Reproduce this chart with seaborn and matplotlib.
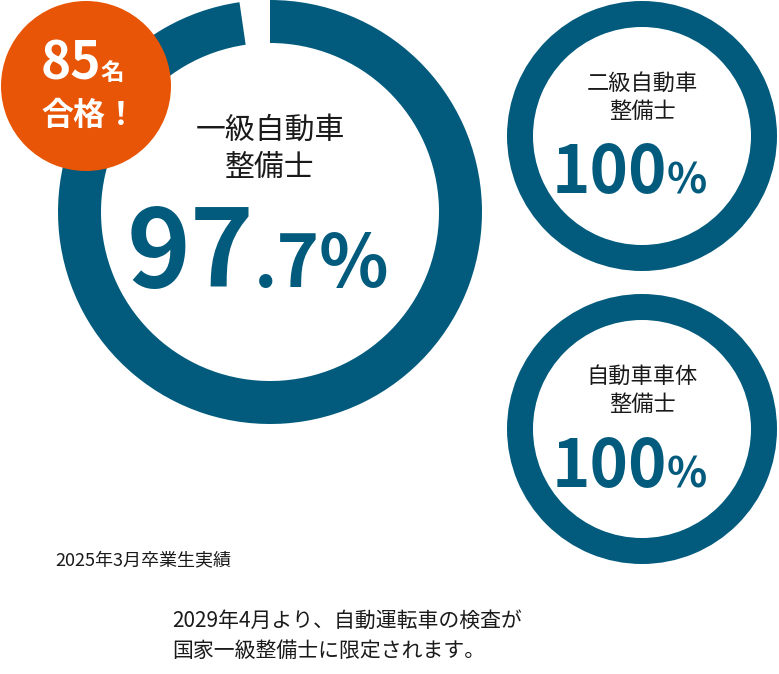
import matplotlib
matplotlib.use("Agg")
import matplotlib.pyplot as plt
import seaborn as sns

sns.set_theme(style="white")
plt.rcParams['font.family'] = ['Noto Sans CJK JP', 'DejaVu Sans']

# data
titles = [["一級自動車", "整備士"], ["二級自動車", "整備士"], ["自動車車体", "整備士"]]
rates = [97.7, 100, 100]
passed = 85
note = "2025年3月卒業生実績"
message = ["2029年4月より、自動運転車の検査が", "国家一級整備士に限定されます。"]

BLUE = "#025b7c"
ORANGE = "#e85506"
DARK = "#1a1a1a"

W, H = 779, 674
fig = plt.figure(figsize=(W / 100, H / 100), dpi=100)
ax = fig.add_axes([0, 0, 1, 1])

# ring layout (image coords): cx, cy, radius, ring width
rings = [(270, 212, 212, 43), (642, 136, 135, 26), (642, 429, 135, 26)]

for rate, (cx, cy, r, w) in zip(rates, rings):
    ax.pie([rate, 100 - rate], colors=[BLUE, (0, 0, 0, 0)], startangle=90,
           counterclock=False, radius=r, center=(cx, H - cy), frame=True,
           wedgeprops=dict(width=w, linewidth=0))

# badge
ax.pie([1], colors=[ORANGE], radius=85, center=(86, H - 86), frame=True,
       wedgeprops=dict(linewidth=0))
ax.text(101, H - 80, f"{passed}", color="white", fontsize=37, fontweight="bold",
        ha="right", va="baseline")
ax.text(101, H - 80, "名", color="white", fontsize=17, fontweight="bold",
        ha="left", va="baseline")
ax.text(41, H - 125, "合格！", color="white", fontsize=23, fontweight="bold",
        ha="left", va="baseline")

# big ring labels
ax.text(270, H - 130, titles[0][0], color=DARK, fontsize=21.5, ha="center", va="center")
ax.text(270, H - 167, titles[0][1], color=DARK, fontsize=21.5, ha="center", va="center")
whole, frac = f"{rates[0]:.1f}".split(".")
ax.text(254, H - 287, whole, color=BLUE, fontsize=78, fontweight="bold",
        ha="right", va="baseline")
ax.text(254, H - 287, f".{frac}%", color=BLUE, fontsize=52, fontweight="bold",
        ha="left", va="baseline")

# small ring labels
for k, (ty1, ty2, base) in zip([1, 2], [(83, 111, 193), (376, 404, 487)]):
    cx = rings[k][0]
    ax.text(cx, H - ty1, titles[k][0], color=DARK, fontsize=16, ha="center", va="center")
    ax.text(cx, H - ty2, titles[k][1], color=DARK, fontsize=16, ha="center", va="center")
    ax.text(667, H - base, f"{rates[k]:.0f}", color=BLUE, fontsize=47, fontweight="bold",
            ha="right", va="baseline")
    ax.text(667, H - base, "%", color=BLUE, fontsize=30, fontweight="bold",
            ha="left", va="baseline")

# notes
ax.text(55, H - 566, note, color=DARK, fontsize=13, ha="left", va="baseline")
ax.text(172, H - 627, message[0], color=DARK, fontsize=15, ha="left", va="baseline")
ax.text(172, H - 657, message[1], color=DARK, fontsize=15, ha="left", va="baseline")

ax.set_xlim(0, W)
ax.set_ylim(0, H)
ax.set_aspect("equal")
ax.axis("off")

fig.savefig("out.png", dpi=100, facecolor="white")
